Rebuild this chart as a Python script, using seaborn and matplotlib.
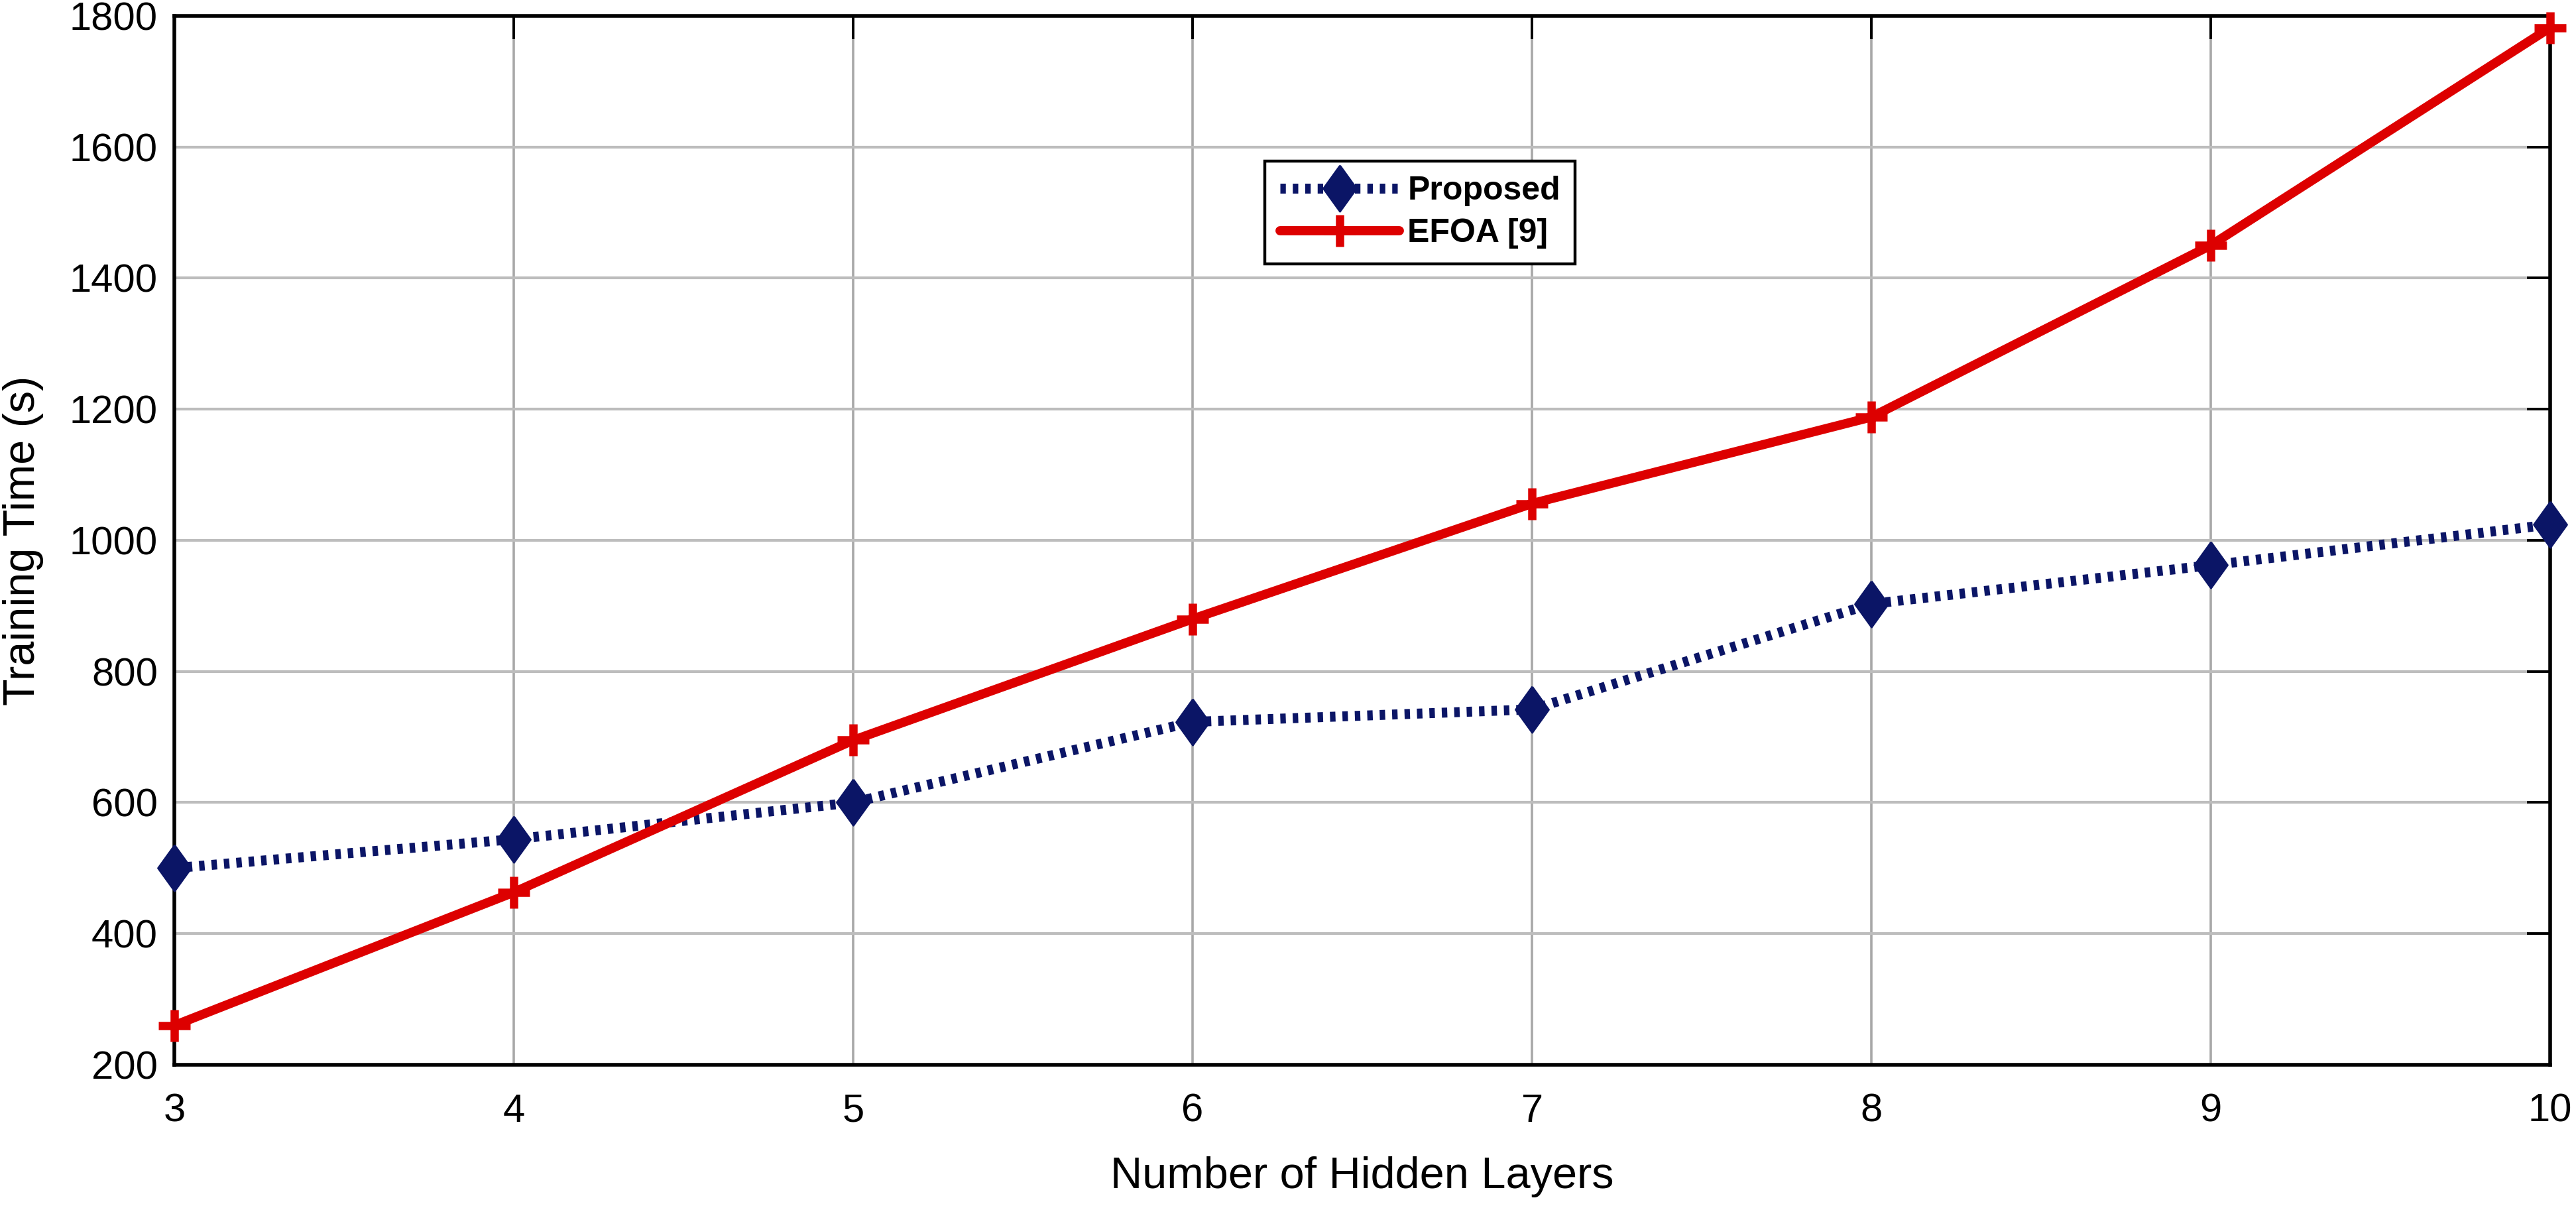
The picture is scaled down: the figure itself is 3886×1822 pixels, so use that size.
import matplotlib
matplotlib.use("Agg")
import matplotlib.pyplot as plt
import seaborn as sns
import pandas as pd

# ---- data ----
hidden_layers = [3, 4, 5, 6, 7, 8, 9, 10]
proposed = [500, 544, 600, 723, 742, 903, 962, 1024]
efoa = [260, 463, 695, 880, 1056, 1188, 1450, 1782]
series_names = ["Proposed", "EFOA [9]"]
y_ticks = [200, 400, 600, 800, 1000, 1200, 1400, 1600, 1800]
x_ticks = hidden_layers

sns.set_style("white")
plt.rcParams["font.family"] = ["Liberation Sans", "DejaVu Sans"]
plt.rcParams["text.color"] = "black"
plt.rcParams["axes.labelcolor"] = "black"
plt.rcParams["xtick.color"] = "black"
plt.rcParams["ytick.color"] = "black"

df_p = pd.DataFrame({"x": hidden_layers, "y": proposed})
df_e = pd.DataFrame({"x": hidden_layers, "y": efoa})

fig = plt.figure(figsize=(19.43, 9.11), dpi=200)
ax = fig.add_axes([0.0677, 0.1186, 0.9223, 0.8683])

navy = "#0b1566"
red = "#dd0000"
diamond = [(0, 1), (0.72, 0), (0, -1), (-0.72, 0), (0, 1)]

sns.lineplot(data=df_p, x="x", y="y", ax=ax, color=navy, linewidth=5.4,
             linestyle=(0, (0.55, 0.7)), marker=diamond, markersize=25,
             markeredgecolor=navy, markerfacecolor=navy, markeredgewidth=1,
             label=series_names[0], clip_on=False, zorder=4)
sns.lineplot(data=df_e, x="x", y="y", ax=ax, color=red, linewidth=5.0,
             marker="+", markersize=17, markeredgecolor=red,
             markeredgewidth=4.5, label=series_names[1], clip_on=False,
             zorder=5)

ax.set_xlim(3, 10)
ax.set_ylim(200, 1800)
ax.set_xticks(x_ticks)
ax.set_yticks(y_ticks)
ax.set_xticklabels([str(v) for v in x_ticks])
ax.set_yticklabels([str(v) for v in y_ticks])

ax.grid(True, axis="x", color="#a8a8a8", linewidth=1.3, zorder=0)
ax.grid(True, axis="y", color="#bdbdbd", linewidth=1.5, zorder=0)
ax.set_axisbelow(True)

for sp in ax.spines.values():
    sp.set_visible(True)
    sp.set_color("black")
    sp.set_linewidth(2.0)

ax.tick_params(axis="both", which="major", direction="in", length=12.5,
               width=1.4, color="black", labelcolor="black", labelsize=21.5,
               top=True, right=True)
ax.tick_params(axis="x", pad=15.5)
ax.tick_params(axis="y", pad=9)

ax.set_xlabel("Number of Hidden Layers", fontsize=24, labelpad=14.5,
              color="black")
ax.set_ylabel("Training Time (s)", fontsize=24, labelpad=14, color="black")

leg = ax.legend(loc="upper left", bbox_to_anchor=(0.459, 0.8616),
                borderaxespad=0, prop={"size": 18, "weight": "bold"},
                frameon=True, fancybox=False,
                edgecolor="black", framealpha=1, handlelength=3.6,
                handletextpad=0.25, borderpad=0.45, labelspacing=0.36,
                numpoints=1)
leg.get_frame().set_linewidth(1.6)
for t in leg.get_texts():
    t.set_color("black")

fig.savefig("out.png", dpi=200, facecolor="white")
